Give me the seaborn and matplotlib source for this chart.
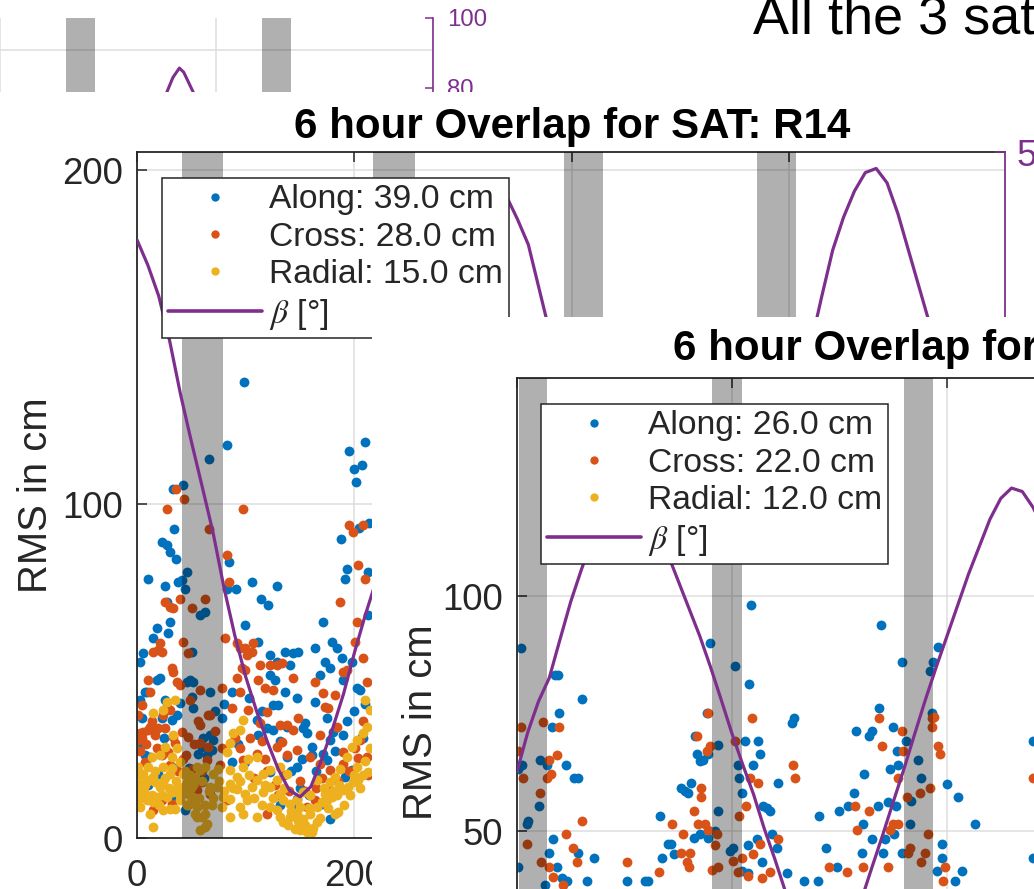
import numpy as np
import matplotlib
matplotlib.use("Agg")
import matplotlib.pyplot as plt
import seaborn as sns
from matplotlib.patches import Rectangle
from matplotlib.lines import Line2D

# ---------------------------------------------------------------- data
# beta angle of the earlier window (only its top strip shows)
beta_prev_x = [520, 530, 540, 550, 560, 566, 570, 580, 590, 600, 610]
beta_prev_y = [45, 56, 65.5, 75.5, 83, 85.7, 84.5, 78, 69.5, 60, 50]
eclipse_prev = [(461, 488), (642, 669)]

# SAT R14
beta_r14_x = list(range(0, 801, 10))
beta_r14_y = [37.2, 33.5, 29, 22.5, 14.7, 7.8, 1.2, -5.5, -13.5, -20.5,
              -26.5, -31.5, -36, -40, -43, -44, -42.5, -38.5, -34, -29,
              -23, -17.5, -12.5, -7, -1.5, 4.5, 10.5, 16.5, 22.5, 28.5,
              35, 40.5, 44.5, 45.5, 43.5, 40.2, 36.5, 30, 23.5, 16.5,
              10, 3.5, -2.5, -8.5, -14.5, -20.5, -26, -31, -36, -40.5,
              -43.5, -43, -39.5, -34.5, -29, -23, -17, -11, -4.5, 2,
              8.5, 15, 22, 29, 35.7, 40.5, 44.3, 47, 47.6, 45.5,
              41, 35.5, 30, 24.5, 18, 11.5, 5, -1.5, -8, -14.5, -21]
eclipse_r14 = [(41.4, 79.1), (217.1, 255.8), (392.8, 428.7), (570.4, 606.3)]

along_r14 = [(98,136.6),(82.5,117.6),(66.6,113.6),(42.7,105.6),(33.5,104.6),(34.4,92.6),(22.7,88.6),(27.3,87.8),(30.4,85.6),(35.6,83.6),(10.5,77.6),(25.8,75.6),(38.1,76.6),(41.1,77.1),(46.4,79.6),(44.2,74.6),(85,82.6),(82.5,74.6),(91.1,74.6),(105.5,76.6),(128.5,75.6),(113.8,71.6),(209.8,118.6),(195.4,115.8),(199.7,110.6),(207.4,111.6),(201.5,106.6),(187.4,89.6),(204.6,92.8),(213.8,94.4),(193.6,80.6),(191.4,77.6),(212.9,79.6),
             (27.3,70.8),(120.9,69.8),(171.5,64.8),(99.4,63.8),(30.4,64.8),(18.7,62.8),(14.5,59.8),(28.9,61.3),(5.9,55.3),(2.8,52.8),(50.3,55.8),(58,66.8),(62.6,67.8),(111.7,58.8),(122.4,54.8),(136.2,55.8),(143.9,55.3),(148.5,55.8),(163.8,56.8),(179.2,58.8),(183.8,56.8),(188.4,53.8),(197.6,52.8),(173,52.8),(177.6,50.8),(168.4,48.8),(140.8,51.8),(128.5,52.8),(127,47.3),(122.4,48.8),(189.9,47.3),(202.2,44.8),(205.2,44.3),(136.2,43.8),(147,41.8),(163.8,40.8),(130.1,39.8),(125.5,39.8),(48.8,47.3),(51.9,46.8),(45.7,46.8),(21.2,47.8),(18.1,47.3),(8.9,43.8),(7.4,43.8),(2.8,41.3),(25.8,41.3),(39.6,40.3),(36.5,36.8),(50.3,42.3),(51.9,38.8),(67.2,43.8),(77.9,35.8),(87.1,43.8),(4.3,35.8),(22.7,35.8),(31.9,35.3),(110.1,35.3),(119.3,32.8),(125.5,32.3),(137.7,33.3),(154.6,34.3),(153.1,32.8),(156.1,31.3),(180.7,31.8),(189.9,30.8),(208.3,29.8),(111.7,30.8),(61.1,29.8),(67.2,30.8),(70.3,29.3),(59.5,27.3),(56.5,25.3),(64.1,24.8),(68.7,26.3),(7.4,24.8),(12,24.3),(19.7,19.3),(10.5,15.8),(33.5,11.8),(44.2,8.3),(87.1,22.8),(99.4,22.8),(122.4,19.8),(137.7,24.3),(151.5,23.8),(160.8,27.3),(160.8,24.8),(147,21.3),(171.5,25.3),(174.6,23.3),(177.6,29.3),(212.9,66.8),(147,11.8),(145.4,10.3),(170,10.3),(131.6,9.8),(177.6,5.8),(191.4,18.3),(197.6,20.3),(206.8,30.3),
             (5,28),(16,33),(25,30),(35,21),(48,21),(62,18),(72,38),(80,40),(93,28),(103,42),(115,38),(132,29),(142,20),(150,15),(158,13),(165,20),(175,36),(182,26),(193,35),(200,38),(210,40)]

cross_r14 = [(35.6,104.6),(43.6,101.6),(28,98.6),(97.9,98.6),(66.3,92.6),(82.5,84.6),(85,76.6),(39.6,71.6),(62.6,71.6),(195.4,93.6),(199.1,91.6),(207.7,93.6),(203.7,81.6),(209.8,77.6),(186.8,70.8),
             (25.8,70.8),(30.4,69.3),(33.5,68.8),(50.3,68.8),(42.7,58.8),(47.3,55.3),(15.1,55.8),(19.7,56.3),(22.7,55.8),(21.2,58.3),(31.9,50.8),(33.5,49.8),(36.5,46.8),(39.6,45.8),(10.5,47.3),(12,43.8),(4.3,39.8),(1.3,36.8),(24.3,36.8),(27.3,39.3),(30.4,38.3),(48.8,41.3),(67.2,36.8),(58,44.3),(77.9,44.8),(81,59.8),(91.7,58.3),(94.8,56.8),(99.4,56.8),(100.9,54.8),(107.1,58.3),(105.5,55.8),(96.3,50.8),(99.4,50.3),(91.7,47.8),(111.7,47.3),(113.2,51.8),(122.4,51.8),(128.5,51.8),(133.1,52.3),(125.5,44.3),(117.8,44.8),(143.9,47.8),(163.8,46.8),(171.5,43.3),(173,39.3),(176.1,38.8),(182.2,42.8),(189.9,49.8),(193,50.3),(200.6,58.8),(202.2,64.8),(208.3,53.8),(211.4,46.8),(94.8,43.8),(87.1,38.8),(102.5,38.3),(119.3,37.8),(113.2,34.3),(131.6,33.8),(137.7,33.8),(143.9,32.3),(148.5,35.8),(168.4,30.8),(2.8,31.3),(5.9,31.8),(10.5,32.3),(12,33.3),(19.7,32.8),(16.6,30.8),(4.3,29.8),(1.3,29.3),(33.5,30.3),(41.1,31.8),(47.3,30.3),(58,33.8),(65.7,36.8),(77.9,26.8),(58,28.3),(65.7,27.3),(64.1,23.3),(35,28.3),(28.9,25.8),(22.7,24.8),(7.4,22.8),(42.7,23.8),(50.3,20.8),(59.5,16.8),(54.9,14.3),(67.2,13.3),(22.7,11.3),(31.9,10.3),(15.1,8.3),(82.5,11.3),(97.9,23.3),(110.1,25.3),(117.8,23.8),(128.5,27.3),(133.1,28.8),(137.7,24.8),(147,26.3),(159.2,24.3),(168.4,22.3),(177.6,20.3),(189.9,25.8),(200.6,26.8),(205.2,29.3),(183.8,33.3),(119.3,7.3),(130.1,12.8),(156.1,9.3),(163.8,11.3),(177.6,14.3),(189.9,22.3),(211.4,24.3),(212.9,18.8),
             (3,26),(8,28),(14,35),(18,27),(26,33),(30,22),(38,20),(45,25),(52,28),(56,35),(60,20),(72,32),(76,22),(90,30),(95,27),(104,30),(108,18),(115,29),(120,20),(127,16),(135,19),(140,14),(150,17),(155,14),(165,15),(170,18),(185,17),(195,20),(203,24),(208,35)]

radial_r14 = [(27.3,40.8),(35,41.3),(24.3,38.3),(15.1,37.3),(33.5,30.8),(25.8,27.3),(21.2,24.8),(13.5,24.3),(31.9,24.3),(36.5,26.8),(39.6,22.8),(2.8,16.3),(7.4,15.8),(12,17.3),(16.6,16.8),(21.2,15.3),(24.3,16.8),(0.5,13.8),(4.3,12.3),(8.9,11.3),(15.1,10.8),(18.1,12.3),(27.3,12.3),(33.5,13.8),(38.1,15.3),(42.7,15.3),(45.7,16.8),(48.8,18.8),(51.9,15.8),(58,20.3),(62.6,21.3),(47.3,13.3),(50.3,11.3),(54.9,9.3),(59.5,6.3),(64.1,4.3),(62.6,7.3),(68.7,9.8),(54.9,6.3),(53.4,7.3),(45.7,9.8),(39.6,11.3),(35,8.8),(30.4,8.8),(24.3,8.3),(15.1,3.3),(70.3,19.3),(74.9,20.8),(82.5,25.8),(85.6,28.3),(88.7,31.3),(94.8,32.3),(97.9,35.3),(85.6,20.3),(91.7,18.3),(97.9,21.3),(102.5,23.8),(110.1,24.3),(85.6,16.3),(91.7,14.8),(99.4,13.3),(105.5,15.3),(110.1,17.3),(116.3,13.8),(122.4,15.3),(128.5,17.3),(131.6,13.3),(134.7,11.3),(140.8,10.3),(147,11.3),(150,9.3),(114.7,9.8),(122.4,9.3),(128.5,8.3),(131.6,6.3),(134.7,4.8),(139.3,3.8),(145.4,2.8),(150,2.3),(156.1,1.8),(160.8,1.8),(140.8,6.3),(147,7.3),(153.1,5.8),(159.2,7.3),(165.3,9.3),(170,10.8),(174.6,11.3),(179.2,12.3),(183.8,12.8),(189.9,14.3),(194.5,15.3),(199.1,16.8),(203.7,17.3),(208.3,18.8),(212.9,19.8),(177.6,16.8),(182.2,18.3),(186.8,20.8),(193,24.3),(197.6,27.3),(202.2,29.3),(208.3,31.3),(211.4,33.3),(209.8,41.3),(214.4,38.3),(182.2,7.3),(185.3,7.8),(165.3,4.8),(173,13.3),(159.2,12.8),(110.1,6.3),(153.1,13.8),(100.9,11.3),(94.8,9.3),(85.6,11.8),(79.5,12.3),(97.9,7.3),(116.3,19.3),(122.4,20.3),(131.6,21.3),(137.7,19.3),(73.3,15.3),(77.9,9.3),(85.6,6.3),(165.3,17.3),(202.2,21.3),(15.1,18.3),(5.9,19.3),(10.5,21.3),(0.5,15.3),(30.4,19.3),(0.5,11.3),(67.2,15.3),(2.8,9.3),(12,7.3),(1.3,21.3),(24.3,21.3),(42.7,19.3),(54.9,21.3),(51.9,12.3),(58,2.3),(62.6,3.3),
              (3,19),(6,14),(9,17),(14,13),(17,20),(20,10),(23,13),(26,18),(29,15),(32,21),(36,17),(40,13),(44,20),(47,10),(50,15),(53,18),(57,12),(60,17),(63,10),(66,14),(70,12),(75,17),(80,14),(88,15),(95,17),(103,19),(108,12),(118,16),(125,12),(135,15),(142,8),(148,5),(155,4),(158,9),(162,3),(168,6),(172,15),(176,9),(180,14),(186,16),(190,10),(196,13),(200,19),(205,15),(210,23),(214,27)]

# second satellite window
beta_b_x = list(range(0, 501, 10))
beta_b_y = [-7.2, -1.5, 3, 6.4, 12, 17.5, 22.2, 26.5, 30.5, 33.5,
            35, 34.5, 32, 28.5, 24.5, 20.5, 16.5, 12.5, 8, 3.2,
            -1.7, -6.2, -10.5, -15.5, -20, -24.8, -29.5, -34, -37.5, -38.5,
            -35.5, -31, -26, -21.2, -16.5, -11.6, -6.8, -1.7, 3.3, 8,
            12.5, 17, 21.5, 25.5, 29.5, 32.5, 34, 33.5, 31.2, 28, 24]
eclipse_b = [(2, 28), (181, 209), (360, 387), (539, 566)]

along_b = [(3.7,89),(35.3,83.1),(37.8,83.1),(60.1,78),(39.3,75.1),(32.2,72.1),(21.4,65.2),(28.2,64.1),(4.9,64.1),(1.2,63.1),(45.2,64.1),(53.3,61.2),(56.4,61.2),(20.7,55.3),(10.5,52.1),(9,51.4),(33.8,48.2),(30,45.3),(36.9,42.3),(1.2,42.3),(26,38.6),(41.5,40),(46.2,39.3),(57,45.3),(71.6,44.3),(65.4,39.3),(102,39.3),(119,39.3),(122.1,39.3),(133,53.3),(134.5,44.3),(140.7,47.3),(143.2,47.3),(146.3,45.2),(152.2,59.2),(156.2,58.5),(159.3,58.1),(161.5,60.2),(165.5,70.2),(177.3,66.3),(167.1,66.3),(170.2,64.9),(173.3,65.2),(179.5,90),(187.2,68.2),(176.4,75.1),(186.6,54.2),(164.6,48.5),(170.2,49.3),(177.3,48.5),(184.1,50),(198.1,45.7),(201.2,46.4),(202.7,85.1),(216,81.2),(217.6,98),(212,69.1),(223.8,69.1),(226,66.3),(219.8,64.1),(205.2,64.1),(206.4,61.2),(208.9,58.1),(243,60.2),(229,55.3),(232.2,54.9),(235.3,54.2),(236.8,49.3),(222.9,48.2),(215.1,47.1),(241.5,46.4),(227.5,43.4),(208.9,41.5),(215.1,41.1),(250.8,41.1),(255.4,73),(257.9,74.1),(267.2,39.3),(279.6,39.3),(281.1,53.3),(287.3,46.3),(297.3,42.3),(313.7,58.1),(299.7,54.2),(307.5,55.3),(315.2,71.2),(327.6,70.2),(329.8,71.2),(322.7,62.2),(336.9,76.1),(338.8,93.9),(349.9,72.1),(357.7,86),(346.9,63.2),(354.6,64.1),(353.1,67.1),(361.4,69.2),(335.4,55.3),(345.3,56.2),(352.4,55.3),(350.6,49.3),(342.2,48.2),(330.4,48.2),(320.5,45.4),(322.1,51.4),(340.7,45.4),(357.7,45.4),(365.5,51.4),(366.4,56.3),(373.2,65.2),(375.7,61.2),(384.1,84),(387.2,86),(385.6,75.1),(391.8,89.1),(399.6,60.1),(410.4,57.2),(425.9,51.4),(394.9,47.3),(394.9,44.3),(390.3,41.5),(413.5,41.5),(407.3,39.3),(480.2,69.1),(480.2,44.3)]

cross_b = [(3.7,72.1),(0.6,67.1),(5.9,61.2),(23.8,73.2),(21.4,58.1),(30,65.2),(36.9,66.1),(31.6,62.2),(28.2,61.2),(39.3,72.1),(9,47.3),(22,43.4),(60.1,52.2),(45.2,49.3),(52.4,46.3),(55.5,43.4),(30,42.3),(33.1,40.2),(43.1,38.6),(102,43.4),(132,41.3),(143.8,51.4),(154.7,49.3),(152.5,45.4),(160.9,45.4),(157.8,43.4),(160,42.3),(164.6,54.2),(171.1,59.2),(171.1,57.2),(167.1,70.2),(176.4,67.1),(179.5,68),(177.3,75.1),(168.6,51.4),(174.8,51.4),(177.9,50.3),(185.7,49.3),(184.1,47.1),(181,41.8),(186.6,42.3),(202.7,69.2),(206.4,53.2),(201.2,43.6),(205.2,41.3),(208.9,44.3),(212.6,55.3),(215.1,40.4),(218.2,74.1),(216.7,61.3),(224.4,60.2),(226,47.3),(219.8,45.2),(228.1,40),(235.3,41.3),(243,48.2),(256.3,64.1),(258.5,61.2),(290.4,42.3),(306.5,41.3),(314.3,55.3),(315.9,50.3),(327.6,54.2),(322.1,42.3),(336.9,74.1),(339.1,68),(345.3,42.3),(346.9,50.3),(349.9,51.4),(354.6,51.4),(354.6,61.3),(357.7,71.2),(359.3,67.1),(362.4,57.2),(365.5,46.3),(363.3,45.4),(374.8,58.1),(375.7,43.4),(379.4,45.4),(382.5,49.3),(384.1,59.2),(385.6,74.1),(385.6,72.1),(388.1,74.2),(391.8,68),(393.4,66.3),(398,42.3),(396.5,39.3),(480.2,61.2)]

labels_r14 = ["Along: 39.0 cm", "Cross: 28.0 cm", "Radial: 15.0 cm", r"$\beta$ [°]"]
labels_b = ["Along: 26.0 cm", "Cross: 22.0 cm", "Radial: 12.0 cm", r"$\beta$ [°]"]
title_r14 = "6 hour Overlap for SAT: R14"
title_b = "6 hour Overlap for SAT: R15"
slide_text = "All the 3 satellites"

# ---------------------------------------------------------------- style
sns.set_style("white")
plt.rcParams["font.family"] = ["Liberation Sans", "DejaVu Sans"]
plt.rcParams["mathtext.fontset"] = "stix"

BLUE, ORANGE, YELLOW, PURPLE = "#0072BD", "#D95319", "#EDB120", "#7E2F8E"
AXC, GRIDC = "#262626", "#dedede"
TICK_FS, LEG_FS, LAB_FS, TITLE_FS = 26.3, 24.2, 28.8, 30.3
DOT = 50

W, H = 1034, 889
fig = plt.figure(figsize=(W / 100, H / 100), dpi=100)
fig.patch.set_facecolor("white")


def box(left, top, width, height):
    return [left / W, 1 - (top + height) / H, width / W, height / H]


def scatter_series(ax, pts, color):
    arr = np.array(pts, dtype=float)
    sns.scatterplot(x=arr[:, 0], y=arr[:, 1], ax=ax, color=color, s=DOT,
                    linewidth=0, legend=False, zorder=2)


def shade(ax, spans):
    for a, b in spans:
        ax.axvspan(a, b, color="black", alpha=0.31, lw=0, zorder=3)


def overlap_panel(rect, z, xlim, ylim, yticks, xticks, label_x, beta_x, beta_y,
                  spans, series, leg_xy, leg_labels):
    ax = fig.add_axes(rect)
    ax.set_zorder(z)
    ax.set_facecolor("white")
    for pts, col in series:
        scatter_series(ax, pts, col)
    shade(ax, spans)
    ax.set_xlim(*xlim)
    ax.set_ylim(*ylim)
    ax.set_xticks(xticks)
    ax.set_yticks(yticks)
    ax.set_axisbelow(True)
    ax.grid(True, color=GRIDC, lw=1.1)
    ax.tick_params(direction="in", length=7, width=1.1, colors=AXC,
                   labelsize=TICK_FS, top=True, right=False)
    ax.tick_params(axis="x", pad=15)
    ax.tick_params(axis="y", pad=10)
    for s in ("left", "bottom", "top"):
        ax.spines[s].set_color(AXC)
        ax.spines[s].set_linewidth(1.3)
    ax.spines["right"].set_visible(False)
    ax.set_xlabel("")
    ax.set_ylabel("RMS in cm", fontsize=LAB_FS, color=AXC)
    ax.yaxis.set_label_coords(label_x, 0.5)

    axr = ax.twinx()
    axr.set_zorder(z + 1)
    sns.lineplot(x=beta_x, y=beta_y, ax=axr, color=PURPLE, linewidth=2.3,
                 estimator=None, sort=False, legend=False)
    axr.set_ylim(-50, 50)
    axr.set_yticks([-50, 0, 50])
    axr.set_ylabel("")
    axr.tick_params(axis="y", direction="in", length=7, width=1.1,
                    colors=PURPLE, labelsize=TICK_FS, pad=8)
    for s in ("left", "bottom", "top"):
        axr.spines[s].set_visible(False)
    axr.spines["right"].set_color(PURPLE)
    axr.spines["right"].set_linewidth(1.3)
    ax.set_xlim(*xlim)

    handles = [Line2D([], [], ls="none", marker="o", ms=6, mfc=c, mec="none")
               for c in (BLUE, ORANGE, YELLOW)]
    handles.append(Line2D([], [], color=PURPLE, lw=2.6))
    leg = axr.legend(handles, leg_labels, loc="upper left",
                     bbox_to_anchor=(leg_xy[0] / W, 1 - leg_xy[1] / H),
                     bbox_transform=fig.transFigure, borderaxespad=0,
                     frameon=True, fancybox=False, framealpha=1,
                     facecolor="white", edgecolor=AXC, fontsize=LEG_FS,
                     handlelength=2.8, handletextpad=0.18, borderpad=0.19,
                     labelspacing=0.19)
    leg.get_frame().set_linewidth(1.1)
    return ax, axr


# ---------------------------------------------------------------- window behind (top strip)
ax1 = fig.add_axes(box(-434, 18, 867, 700))
ax1.set_zorder(1)
ax1.set_xlim(0, 800)
ax1.set_ylim(0, 209.6)
shade(ax1, eclipse_prev)
ax1.set_xticks(range(0, 801, 200))
ax1.set_yticks([0, 100, 200])
ax1.set_axisbelow(True)
ax1.grid(True, color=GRIDC, lw=1.1)
ax1.tick_params(length=0, labelleft=False, labelbottom=False)
for s in ax1.spines.values():
    s.set_visible(False)
ax1r = ax1.twinx()
ax1r.set_zorder(2)
sns.lineplot(x=beta_prev_x, y=beta_prev_y, ax=ax1r, color=PURPLE, linewidth=2.2,
             estimator=None, sort=False, legend=False)
ax1r.set_ylim(-100, 100)
ax1r.set_yticks(range(-100, 101, 20))
ax1r.set_ylabel("")
ax1r.tick_params(axis="y", direction="in", length=6, width=1.1, colors=PURPLE,
                 labelsize=17.3, pad=10)
for s in ("left", "bottom", "top"):
    ax1r.spines[s].set_visible(False)
ax1r.spines["right"].set_color(PURPLE)
ax1r.spines["right"].set_linewidth(1.2)
ax1.set_xlim(0, 800)

fig.text(753 / W, 1 - 33 / H, slide_text, fontsize=38.9, color="black",
         ha="left", va="baseline", zorder=10)

# ---------------------------------------------------------------- R14 window
fig.add_artist(Rectangle((0, 0), 1, 1 - 92 / H, transform=fig.transFigure,
                         facecolor="white", edgecolor="none", zorder=3))
fig.text(572 / W, 1 - 138 / H, title_r14, fontsize=TITLE_FS, fontweight="bold",
         color="black", ha="center", va="baseline", zorder=4)
overlap_panel(box(137, 152, 868, 686), 4, (0, 798.5), (0, 205.4), [0, 100, 200],
              [0, 200, 400, 600], -82 / 868, beta_r14_x, beta_r14_y, eclipse_r14,
              [(along_r14, BLUE), (cross_r14, ORANGE), (radial_r14, YELLOW)],
              (162, 178), labels_r14)

# ---------------------------------------------------------------- second window
fig.add_artist(Rectangle((372 / W, 0), 1 - 372 / W, 1 - 317 / H,
                         transform=fig.transFigure, facecolor="white",
                         edgecolor="none", zorder=6))
fig.text(951 / W, 1 - 360 / H, title_b, fontsize=TITLE_FS, fontweight="bold",
         color="black", ha="center", va="baseline", zorder=7)
overlap_panel(box(517, 378, 868, 688), 7, (0, 807.4), (0, 146.4), [0, 50, 100],
              [0, 200, 400, 600, 800], -77 / 868, beta_b_x, beta_b_y, eclipse_b,
              [(along_b, BLUE), (cross_b, ORANGE)],
              (541, 404), labels_b)

fig.savefig("out.png", dpi=100)
